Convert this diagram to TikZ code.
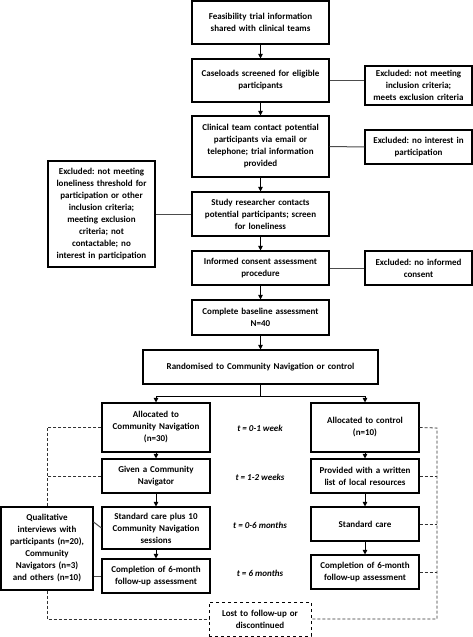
\documentclass[tikz,border=0pt]{standalone}
\usepackage{fontspec}
\setmainfont{Carlito}
\usepackage{tikz}
\usetikzlibrary{positioning,calc,arrows.meta}
\frenchspacing

\begin{document}
\begin{tikzpicture}[x=1pt,y=1pt,
    box/.style={draw, line width=1.1pt, align=center, inner sep=2pt, font=\fontsize{9}{12}\selectfont\bfseries},
    mainbox/.style={box, text width=133pt},
    sidebox/.style={box, text width=103pt},
    armbox/.style={box, text width=104pt},
    timelabel/.style={font=\fontsize{9}{12}\selectfont\bfseries\itshape},
    arrow/.style={line width=1pt, -{Triangle[length=4.5pt,width=4.5pt]}},
    link/.style={line width=1pt, black!70},
    dashline/.style={line width=0.8pt, dashed, dash pattern=on 3pt off 2pt, black!80}]
    \useasboundingbox (0,0) rectangle (473,-637);

    \node (b1) at (260.5,-22.5) [mainbox, minimum height=43pt] {Feasibility trial information\\shared with clinical teams};
    \node (b2) at (260.5,-80.5) [mainbox, minimum height=43pt] {Caseloads screened for eligible\\participants};
    \node (b3) at (260.5,-146.5) [mainbox, minimum height=61pt] {Clinical team contact potential\\participants via email or\\telephone; trial information\\provided};
    \node (b4) at (260.5,-214) [mainbox, minimum height=44pt] {Study researcher contacts\\potential participants; screen\\for loneliness};
    \node (b5) at (260.5,-268) [mainbox, minimum height=34pt] {Informed consent assessment\\procedure};
    \node (b6) at (260.5,-317.5) [mainbox, minimum height=35pt] {Complete baseline assessment\\N=40};
    \node (b7) at (260.5,-367) [box, text width=231pt, minimum height=34pt] {Randomised to Community Navigation or control};

    \node (e1) at (418.5,-85.5) [sidebox, minimum height=39pt] {Excluded: not meeting\\inclusion criteria;\\meets exclusion criteria};
    \node (e2) at (418.5,-147) [sidebox, minimum height=34pt] {Excluded: no interest in\\participation};
    \node (e3) at (418.5,-268) [sidebox, minimum height=34pt] {Excluded: no informed\\consent};
    \node (e4) at (101.5,-214) [sidebox, minimum height=106pt] {Excluded: not meeting\\loneliness threshold for\\participation or other\\inclusion criteria;\\meeting exclusion\\criteria; not\\contactable; no\\interest in participation};

    \node (L1) at (156,-427.5) [armbox, minimum height=49pt] {Allocated to\\Community Navigation\\(n=30)};
    \node (L2) at (156,-476) [armbox, minimum height=34pt] {Given a Community\\Navigator};
    \node (L3) at (156,-528) [armbox, minimum height=42pt] {Standard care plus 10\\Community Navigation\\sessions};
    \node (L4) at (156,-576) [armbox, minimum height=34pt] {Completion of 6-month\\follow-up assessment};

    \node (R1) at (365,-427.5) [armbox, minimum height=49pt] {Allocated to control\\(n=10)};
    \node (R2) at (365,-476) [armbox, minimum height=34pt] {Provided with a written\\list of local resources};
    \node (R3) at (365,-524) [armbox, minimum height=34pt] {Standard care};
    \node (R4) at (365,-572) [armbox, minimum height=34pt] {Completion of 6-month\\follow-up assessment};

    \node (t1) at (260,-428) [timelabel] {t = 0-1 week};
    \node (t2) at (260,-477) [timelabel] {t = 1-2 weeks};
    \node (t3) at (260,-525) [timelabel] {t = 0-6 months};
    \node (t4) at (260,-573) [timelabel] {t = 6 months};

    \node (qual) at (47,-548.5) [box, text width=88pt, minimum height=83pt] {Qualitative\\interviews with\\participants (n=20),\\Community\\Navigators (n=3)\\and others (n=10)};
    \node (lost) at (260,-619) [box, dashed, line width=0.8pt, text width=98pt, minimum height=34pt] {Lost to follow-up or\\discontinued};

    \draw[arrow] (b1) -- (b2);
    \draw[arrow] (b2) -- (b3);
    \draw[arrow] (b3) -- (b4);
    \draw[arrow] (b4) -- (b5);
    \draw[arrow] (b5) -- (b6);
    \draw[arrow] (b6) -- (b7);

    \draw[link] (b2.east) -- (b2.east -| e1.west);
    \draw[link] (b3.east) -- (e2.west);
    \draw[link] (b5.east) -- (e3.west);
    \draw[link] (e4.east) -- (b4.west);

    \coordinate (split) at (260.5,-396);
    \draw[line width=1pt] (b7.south) -- (split);
    \draw[arrow] (split) -| (L1.north);
    \draw[arrow] (split) -| (R1.north);

    \draw[arrow] (L1) -- (L2);
    \draw[arrow] (L2) -- (L3);
    \draw[arrow] (L3) -- (L4);
    \draw[arrow] (R1) -- (R2);
    \draw[arrow] (R2) -- (R3);
    \draw[arrow] (R3) -- (R4);

    \draw[link] ([yshift=26.5pt]qual.east) -- (L3.west);
    \draw[link] (L4.west -| qual.east) -- (L4.west);

    \draw[dashline] (L1.west) -| (qual.north);
    \draw[dashline] (L2.west) -- (L2.west -| qual.north);
    \draw[dashline] (qual.south) |- (lost.west);

    \coordinate (rail) at (437,-428);
    \draw[dashline] (R1.east) -- (rail) |- (lost.east);
    \draw[dashline] (R2.east) -- (R2.east -| rail);
    \draw[dashline] (R3.east) -- (R3.east -| rail);
    \draw[dashline] (R4.east) -- (R4.east -| rail);
\end{tikzpicture}
\end{document}
